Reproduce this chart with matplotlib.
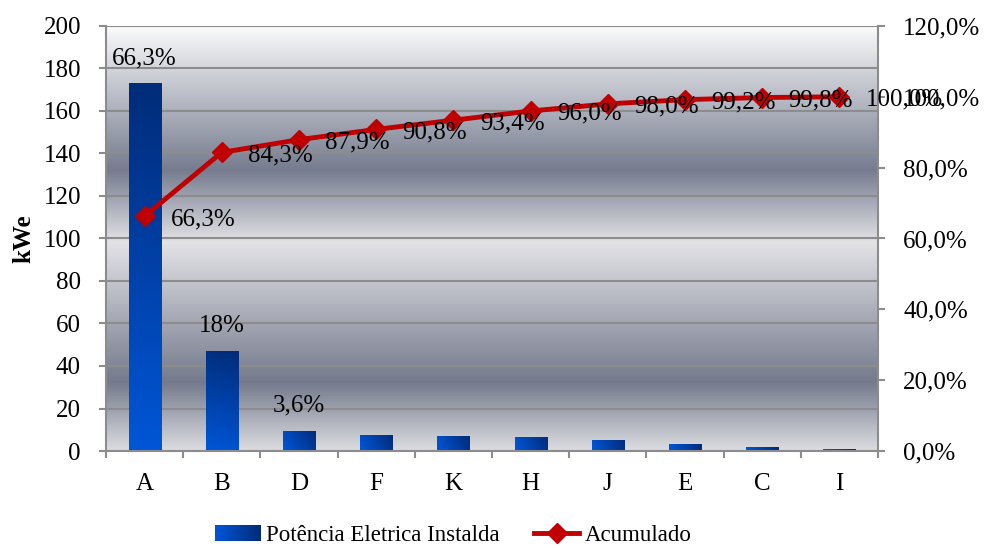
import matplotlib.pyplot as plt
import numpy as np
from matplotlib.colors import LinearSegmentedColormap, to_rgb

plt.rcParams["font.family"] = ["Liberation Serif", "DejaVu Serif"]

FIGURE_DPI = 100
FONT_SIZE = 18
LEGEND_FONT_SIZE = 16.5
GRID_COLOR = "#8c8c8c"
LINE_COLOR = "#c00000"
BAR_LIGHT = "#0056d8"
BAR_DARK = "#002c78"

categories = ["A", "B", "D", "F", "K", "H", "J", "E", "C", "I"]
power_kwe = [173.0, 47.0, 9.6, 7.6, 7.0, 6.8, 5.4, 3.2, 1.7, 0.8]
bar_labels = ["66,3%", "18%", "3,6%"]
cumulative_pct = [66.3, 84.3, 87.9, 90.8, 93.4, 96.0, 98.0, 99.2, 99.8, 100.0]


def pct_text(v: float) -> str:
    return f"{v:.1f}%".replace(".", ",")


def add_background(ax) -> None:
    # banded grey gradient behind the plot area
    stops = [
        (0.00, "#dcdde1"),
        (0.16, "#747a8c"),
        (0.49, "#e3e3e6"),
        (0.66, "#767c8f"),
        (1.00, "#fbfbfc"),
    ]
    cmap = LinearSegmentedColormap.from_list("bands", stops)
    grad = np.linspace(0, 1, 512).reshape(-1, 1)
    ax.imshow(grad, cmap=cmap, origin="lower", aspect="auto",
              extent=[0, 1, 0, 1], transform=ax.transAxes, zorder=0,
              interpolation="bilinear")


def gradient_array(w_px: float, h_px: float, nx: int = 40, ny: int = 200):
    u = np.linspace(0, 1, nx)[None, :]
    v = np.linspace(0, 1, ny)[:, None]
    t = (u * w_px ** 2 + v * h_px ** 2) / (w_px ** 2 + h_px ** 2)
    c0 = np.array(to_rgb(BAR_LIGHT))
    c1 = np.array(to_rgb(BAR_DARK))
    return c0 + (c1 - c0) * t[..., None]


fig = plt.figure(figsize=(9.85, 5.48), dpi=FIGURE_DPI)
fig.patch.set_facecolor("white")
ax = fig.add_axes([0.1076, 0.177, 0.7838, 0.7756])
ax.patch.set_visible(False)

x = np.arange(len(categories))
bar_width = 0.415
bars = ax.bar(x, power_kwe, width=bar_width, color=BAR_LIGHT, zorder=2,
              label="Potência Eletrica Instalda")

ax.set_xlim(-0.5, len(categories) - 0.5)
ax.set_ylim(0, 200)
add_background(ax)

# fill each bar with a diagonal blue gradient
fig_w_px = fig.get_figwidth() * FIGURE_DPI * 0.7838
fig_h_px = fig.get_figheight() * FIGURE_DPI * 0.7756
for patch, val in zip(bars, power_kwe):
    w_px = bar_width / len(categories) * fig_w_px
    h_px = max(val / 200 * fig_h_px, 1)
    x0 = patch.get_x()
    img = ax.imshow(gradient_array(w_px, h_px), origin="lower", aspect="auto",
                    extent=[x0, x0 + bar_width, 0, val], zorder=2.5,
                    interpolation="bilinear")
    img.set_clip_path(patch)
ax.set_xlim(-0.5, len(categories) - 0.5)
ax.set_ylim(0, 200)

ax.set_yticks(np.arange(0, 201, 20))
ax.grid(axis="y", color=GRID_COLOR, linewidth=1.5, zorder=1)
ax.set_xticks(x)
ax.set_xticklabels(categories)
ax.set_xticks(np.arange(-0.5, len(categories)), minor=True)
ax.tick_params(axis="x", which="major", length=0, pad=16, labelsize=FONT_SIZE)
ax.tick_params(axis="x", which="minor", length=5, width=1.5, color=GRID_COLOR,
               direction="out")
ax.tick_params(axis="y", length=5, width=1.5, color=GRID_COLOR, pad=13,
               labelsize=FONT_SIZE)
for side in ["left", "right", "bottom"]:
    ax.spines[side].set_color(GRID_COLOR)
    ax.spines[side].set_linewidth(1.5)
ax.spines["top"].set_visible(False)
ax.set_ylabel("kWe", fontsize=FONT_SIZE, fontweight="bold", labelpad=6)

for patch, text in zip(bars, bar_labels):
    ax.annotate(text, (patch.get_x() + bar_width / 2, patch.get_height()),
                xytext=(0, 18), textcoords="offset points",
                ha="center", va="center", fontsize=FONT_SIZE, zorder=5)

ax2 = ax.twinx()
ax2.plot(x, cumulative_pct, color=LINE_COLOR, linewidth=3.5, marker="D",
         markersize=10.5, zorder=4, label="Acumulado")
ax2.set_ylim(0, 120)
ax2.set_yticks(np.arange(0, 121, 20))
ax2.set_yticklabels([pct_text(v) for v in np.arange(0, 121, 20)])
ax2.tick_params(axis="y", length=5, width=1.5, color=GRID_COLOR, pad=13,
                labelsize=FONT_SIZE)
for side in ["left", "right", "bottom", "top"]:
    ax2.spines[side].set_visible(False)

for xi, val in zip(x, cumulative_pct):
    ax2.annotate(pct_text(val), (xi, val), xytext=(19, -2),
                 textcoords="offset points", ha="left", va="center",
                 fontsize=FONT_SIZE, zorder=6, annotation_clip=False)

handles = [bars, ax2.get_lines()[0]]
leg = fig.legend(handles, [h.get_label() for h in handles], loc="lower center",
                 bbox_to_anchor=(0.46, -0.034), ncol=2, frameon=False,
                 fontsize=LEGEND_FONT_SIZE, handlelength=2.0,
                 handletextpad=0.22, columnspacing=1.5)

# swap the flat legend swatch for a left-to-right gradient
fig.canvas.draw()
swatch = leg.legend_handles[0]
bb = swatch.get_window_extent().transformed(fig.transFigure.inverted())
sw_ax = fig.add_axes([bb.x0, bb.y0, bb.width, bb.height])
sw_ax.imshow(gradient_array(50, 1, nx=64, ny=2), origin="lower", aspect="auto",
             interpolation="bilinear")
sw_ax.set_axis_off()
swatch.set_visible(False)

fig.savefig("out.png", dpi=FIGURE_DPI, facecolor="white")
plt.close(fig)
